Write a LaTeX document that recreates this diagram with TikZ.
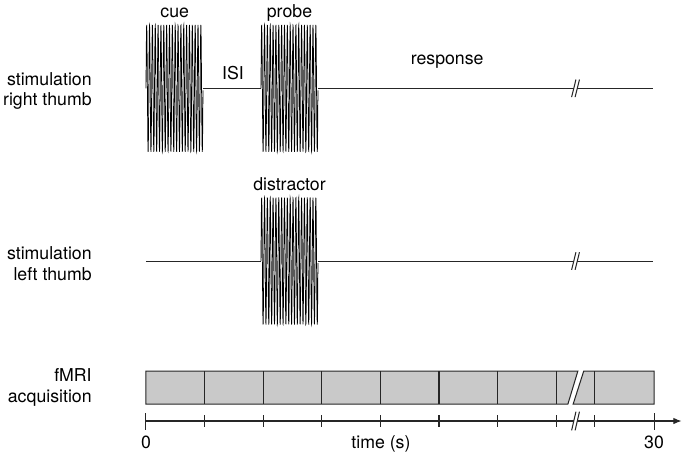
\documentclass[tikz,border=0pt]{standalone}
\usepackage{fontspec}
\setmainfont{TeX Gyre Heros}
\usetikzlibrary{arrows.meta}
\begin{document}
\begin{tikzpicture}[
  font=\fontsize{8.6}{10}\selectfont,
  signal/.style={black!85, line width=0.5pt},
  burst/.style={black, line width=0.35pt},
  rowlabel/.style={align=right, anchor=east, inner sep=0pt},
  phase/.style={anchor=base, inner sep=0pt},
  scan/.style={draw=black!85, fill=black!21, line width=0.5pt}
]
  \useasboundingbox (-2.491,-0.717) rectangle (9.198,7.184);
  \node[rowlabel] (rightlbl) at (-0.92,5.63) {stimulation\\right thumb};
  \node[rowlabel] (leftlbl) at (-0.92,2.68) {stimulation\\left thumb};
  \node[rowlabel] (fmrilbl) at (-0.92,0.572) {fMRI\\acquisition};
  \foreach \Y in {5.677,2.730} {
    \draw[signal] (7.36,\Y) -- (8.65,\Y);
    \draw[signal] (2.935,\Y) -- (7.30,\Y);
    \foreach \S in {7.30,7.36}
      \draw[signal] ({\S-0.037},{\Y-0.15}) -- ({\S+0.037},{\Y+0.15});
  }
  \draw[signal] (0.973,5.677) -- (1.962,5.677);
  \draw[signal] (0,2.730) -- (1.962,2.730);
  \foreach \X/\Y in {0/5.677, 1.962/5.677, 1.962/2.730} {
    \draw[burst] plot[domain=0:0.973, samples=500]
      ({\X+\x},{\Y+1.084*sin(20*360*\x/0.973)});
  }
  \node[phase] (cue) at (0.49,6.884) {cue};
  \node[phase] (isi) at (1.485,5.82) {ISI};
  \node[phase] (probe) at (2.449,6.884) {probe};
  \node[phase] (response) at (5.14,6.075) {response};
  \node[phase] (distractor) at (2.449,3.94) {distractor};
  \draw[scan] (0,0.29) -- (7.20,0.29) -- (7.37,0.853) -- (0,0.853) -- cycle;
  \draw[scan] (7.29,0.29) -- (8.67,0.29) -- (8.67,0.853) -- (7.47,0.853) -- cycle;
  \foreach \k in {1,...,7,7.66}
    \draw[signal] (\k,0.29) -- (\k,0.853);
  \draw[signal] (0,0) -- (7.30,0);
  \draw[signal, -{Latex[length=0.14cm, width=0.11cm]}] (7.36,0) -- (9.14,0);
  \foreach \k in {1,...,7,7.66}
    \draw[signal] (\k,-0.1) -- (\k,0.1);
  \foreach \k in {0,8.67}
    \draw[signal] (\k,-0.145) -- (\k,0.145);
  \foreach \S in {7.30,7.36}
    \draw[signal] ({\S-0.037},-0.16) -- ({\S+0.037},0.16);
  \node[phase] (zero) at (0,-0.47) {0};
  \node[phase] (timelbl) at (4.01,-0.47) {time (s)};
  \node[phase] (thirty) at (8.67,-0.47) {30};
\end{tikzpicture}
\end{document}
